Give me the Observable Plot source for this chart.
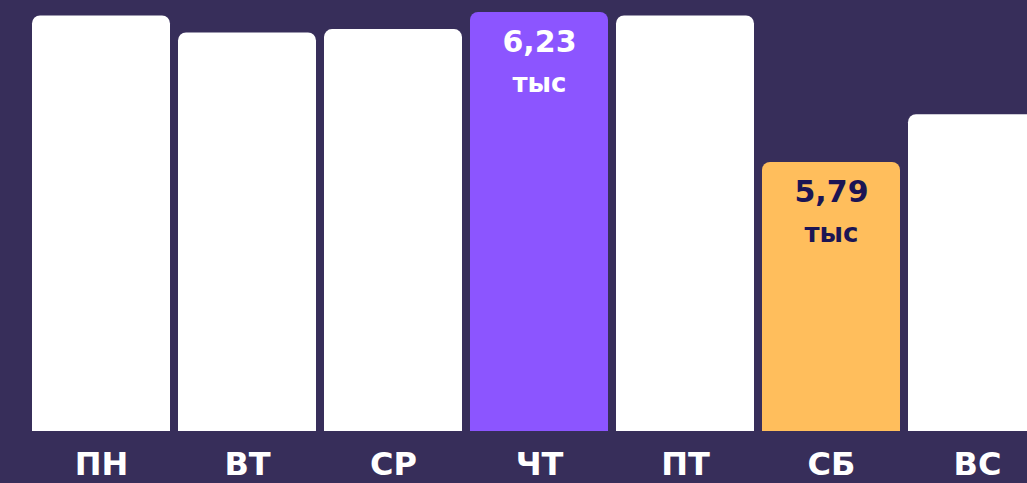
<!DOCTYPE html>
<html>
<head>
<meta charset="utf-8">
<script src="https://cdn.jsdelivr.net/npm/d3@7"></script>
<script src="https://cdn.jsdelivr.net/npm/@observablehq/plot@0.6"></script>
<style>
  html, body { margin: 0; padding: 0; background: #372e5a; overflow: hidden; }
  #chart svg { display: block; }
</style>
</head>
<body>
<div id="chart"></div>
<script>
const days = ["ПН", "ВТ", "СР", "ЧТ", "ПТ", "СБ", "ВС"];
const values = [6.22, 6.17, 6.18, 6.23, 6.22, 5.79, 5.93];
const highlight = ["normal", "normal", "normal", "max", "normal", "min", "normal"];
const valueLabels = ["", "", "", "6,23", "", "5,79", ""];
const unitLabel = "тыс";

const barColors = {normal: "#ffffff", max: "#8c55ff", min: "#ffbe5c"};
const textColors = {normal: "#ffffff", max: "#ffffff", min: "#1b1554"};

const data = days.map((d, i) => ({day: d, value: values[i], kind: highlight[i], label: valueLabels[i]}));
const labeled = data.filter(d => d.label !== "");
const base = 5;

const chart = Plot.plot({
  width: 1027,
  height: 483,
  marginTop: 12,
  marginBottom: 52,
  marginLeft: 0,
  marginRight: 0,
  style: {background: "#372e5a", fontFamily: "'DejaVu Sans', sans-serif", fontWeight: "bold"},
  x: {domain: days, range: [31, 1047], paddingInner: 0.057, paddingOuter: 0, label: null},
  y: {domain: [base, 6.23], axis: null},
  marks: [
    Plot.barY(data, {x: "day", y1: base, y2: "value", rx: 8, fill: d => barColors[d.kind]}),
    Plot.barY(data, {x: "day", y1: base, y2: d => d.value - 0.04, fill: d => barColors[d.kind]}),
    Plot.text(labeled, {x: "day", y: "value", text: "label", dy: 30, fontSize: 30, fontWeight: "bold", fill: d => textColors[d.kind]}),
    Plot.text(labeled, {x: "day", y: "value", text: () => unitLabel, dy: 71, fontSize: 26, fontWeight: "bold", fill: d => textColors[d.kind]}),
    Plot.axisX({tickSize: 0, tickPadding: 21, fontSize: 32, fontWeight: "bold", color: "#ffffff", label: null})
  ]
});
document.getElementById("chart").append(chart);
</script>
</body>
</html>
